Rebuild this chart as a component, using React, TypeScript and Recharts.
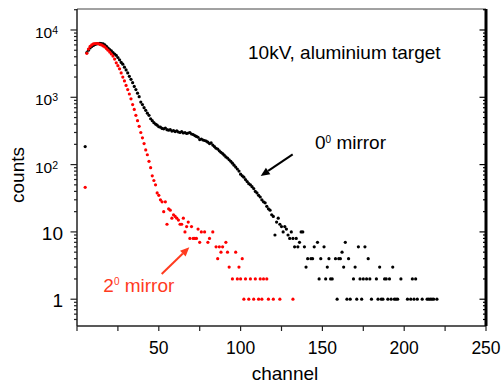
import { ScatterChart, Scatter, XAxis, YAxis } from 'recharts';

// 0 deg mirror (black), channel / counts
const blackChannel = [
  5, 6, 7, 8, 9, 10, 11, 12, 13, 14, 15, 16, 17, 18, 19, 20, 21, 22, 23, 24, 25, 26, 27, 28, 29,
  30, 31, 32, 33, 34, 35, 36, 37, 38, 39, 40, 41, 42, 43, 44, 45, 46, 47, 48, 49, 50, 51, 52, 53, 54,
  55, 56, 57, 58, 59, 60, 61, 62, 63, 64, 65, 66, 67, 68, 69, 70, 71, 72, 73, 74, 75, 76, 77, 78, 79,
  80, 81, 82, 83, 84, 85, 86, 87, 88, 89, 90, 91, 92, 93, 94, 95, 96, 97, 98, 99, 100, 101, 102, 103, 104,
  105, 106, 107, 108, 109, 110, 111, 112, 113, 114, 115, 116, 117, 118, 119, 120, 121, 122, 123, 124,
  125, 126, 127, 128, 129, 130, 131, 132, 133, 134, 135, 136, 137, 138, 139,
  140, 141, 143, 144, 145, 147, 148, 149, 151, 152, 153, 154, 155, 156, 158, 159, 160, 161, 162, 163,
  164, 165, 166, 167, 169, 170, 171, 172, 173, 174, 175, 176, 177, 178, 179, 180, 183, 184, 185, 186,
  187, 188, 189, 190, 191, 192, 193, 194, 195, 196, 198, 202, 204, 205, 206, 207, 208, 211, 214, 215,
  216, 217, 218, 220,
];
const blackCounts = [
  185, 4600, 5000, 5400, 5700, 5900, 6100, 6200, 6300, 6350, 6300, 6200, 6000, 5700, 5400, 5100, 4900, 4600, 4400, 4200, 3900, 3600, 3300, 3100, 2800,
  2550, 2300, 2050, 1850, 1650, 1450, 1300, 1150, 1020, 850, 780, 700, 640, 580, 540, 480, 450, 420, 400, 385, 365, 360, 345, 340, 350,
  330, 325, 330, 315, 320, 310, 318, 305, 300, 310, 295, 300, 290, 295, 300, 285, 280, 270, 262, 255, 235, 240, 232, 228, 224,
  215, 205, 210, 195, 185, 175, 170, 160, 152, 146, 138, 130, 125, 118, 112, 105, 98, 92, 86, 80, 72, 68, 65, 60, 56,
  52, 50, 47, 44, 40, 38, 35, 33, 30, 28, 27, 24, 22, 21, 18, 17, 9, 14, 16, 13,
  12, 10, 12, 11, 9, 8, 10, 8, 6, 8, 6, 7, 10, 10, 6,
  3, 4, 4, 4, 6, 7, 2, 4, 6, 2, 3, 4, 2, 2, 4, 1, 4, 4, 5, 3,
  7, 1, 4, 1, 2, 3, 1, 6, 2, 1, 2, 6, 2, 4, 2, 1, 2, 1, 3, 1,
  1, 2, 2, 1, 2, 1, 3, 1, 1, 1, 2, 1, 1, 2, 1, 2, 1, 1, 1, 1,
  1, 1, 1, 1,
];

// 2 deg mirror (red), channel / counts
const redChannel = [
  5, 6, 7, 8, 9, 10, 11, 12, 13, 14, 15, 16, 17, 18, 19, 20, 21, 22, 23, 24, 25, 26, 27, 28, 29,
  30, 31, 32, 33, 34, 35, 36, 37, 38, 39, 40, 41, 42, 43, 44, 45, 46, 47, 48, 49, 50, 51, 52, 53, 54,
  55, 56, 57, 58, 59, 60, 61, 62, 63, 64, 65, 66, 67, 68, 69, 70, 71, 72, 73, 74, 75, 76, 78, 80, 81,
  83, 85, 86, 87, 88, 89, 91, 92, 93, 95, 97, 98, 99, 100, 101, 102, 103, 105, 106, 108, 109, 111, 112, 113, 114,
  116, 117, 120, 124, 132,
];
const redCounts = [
  46, 4500, 5200, 5700, 6000, 6200, 6300, 6300, 6250, 6100, 6000, 5800, 5600, 5300, 5000, 4700, 4400, 4100, 3700, 3250, 2950, 2650, 2300, 2000, 1750,
  1500, 1300, 1120, 950, 780, 660, 540, 450, 370, 300, 250, 205, 165, 140, 112, 90, 68, 58, 50, 38, 35, 30, 28, 20, 28,
  13, 22, 21, 16, 18, 17, 16, 15, 13, 13, 16, 10, 12, 14, 8, 12, 8, 8, 8, 11, 7, 10, 10, 7, 8,
  10, 6, 4, 6, 5, 6, 7, 5, 3, 2, 5, 2, 3, 2, 4, 1, 2, 1, 2, 1, 2, 1, 2, 1, 2,
  2, 1, 1, 1, 1,
];

const xTicks = [0, 25, 50, 75, 100, 125, 150, 175, 200, 225, 250];
const xLabels = [50, 100, 150, 200, 250];
const yTicks = [
  0.5, 0.6, 0.7, 0.8, 0.9,
  1, 2, 3, 4, 5, 6, 7, 8, 9,
  10, 20, 30, 40, 50, 60, 70, 80, 90,
  100, 200, 300, 400, 500, 600, 700, 800, 900,
  1000, 2000, 3000, 4000, 5000, 6000, 7000, 8000, 9000,
  10000, 20000,
];

const blackData = blackChannel.map((c, i) => ({ x: c, y: blackCounts[i] }));
const redData = redChannel.map((c, i) => ({ x: c, y: redCounts[i] }));

// page is used edge to edge (body margin removed)
const W = 504;
const H = 383;
const FONT = '"Liberation Sans", Arial, sans-serif';
const ORANGE = '#ff3b1f';

const isDecade = (v: number) => Math.abs(Math.log10(v) - Math.round(Math.log10(v))) < 1e-9;

const LeftTick = (props: any) => {
  const { x, y, payload } = props;
  const v = payload.value;
  const major = isDecade(v);
  const e = Math.round(Math.log10(v));
  return (
    <g>
      <line x1={x} x2={x - (major ? 6.5 : 3)} y1={y} y2={y} stroke="#222" strokeWidth={1.2} />
      {major && e >= 2 && (
        <text x={x - 42} y={y + 8} fontSize={15.5} fontFamily={FONT} fill="#000">
          10<tspan fontSize={10.5} dy={-4}>{e}</tspan>
        </text>
      )}
      {major && e < 2 && (
        <text x={x - 14} y={y + 8} fontSize={19} fontFamily={FONT} fill="#000" textAnchor="end">
          {e === 0 ? '1' : '10'}
        </text>
      )}
    </g>
  );
};

const RightTick = (props: any) => {
  const { x, y, payload } = props;
  const major = isDecade(payload.value);
  return <line x1={x} x2={x - (major ? 6.5 : 3)} y1={y} y2={y} stroke="#000" strokeWidth={1.2} />;
};

const BottomTick = (props: any) => {
  const { x, y, payload } = props;
  const v = payload.value;
  return (
    <g>
      <line x1={x} x2={x} y1={y} y2={y + 5} stroke="#222" strokeWidth={1.2} />
      {xLabels.includes(v) && (
        <text x={x} y={y + 27.5} fontSize={17.5} fontFamily={FONT} fill="#000" textAnchor="middle">
          {v}
        </text>
      )}
    </g>
  );
};

const TopTick = (props: any) => {
  const { x, y } = props;
  return <line x1={x} x2={x} y1={y} y2={y + 5} stroke="#222" strokeWidth={1} />;
};

const dot = (color: string) => (p: any) => <circle cx={p.cx} cy={p.cy} r={1.6} fill={color} />;

const Arrow = ({ from, to, color }: { from: [number, number]; to: [number, number]; color: string }) => {
  const dx = to[0] - from[0];
  const dy = to[1] - from[1];
  const len = Math.hypot(dx, dy);
  const ux = dx / len;
  const uy = dy / len;
  const bx = to[0] - ux * 9;
  const by = to[1] - uy * 9;
  const px = -uy * 4;
  const py = ux * 4;
  return (
    <g>
      <line x1={from[0]} y1={from[1]} x2={bx} y2={by} stroke={color} strokeWidth={2} />
      <polygon points={`${to[0]},${to[1]} ${bx + px},${by + py} ${bx - px},${by - py}`} fill={color} />
    </g>
  );
};

export default function App() {
  return (
    <div style={{ position: 'relative', width: W, height: H }}>
      <style>{'html,body{margin:0;padding:0;overflow:hidden}'}</style>
      <ScatterChart
        width={W}
        height={H}
        margin={{ top: 8, right: 17, bottom: 0, left: 0 }}
        style={{ overflow: 'visible' }}
      >
        <XAxis
          xAxisId="bottom"
          dataKey="x"
          type="number"
          domain={[0, 250]}
          allowDataOverflow
          ticks={xTicks}
          interval={0}
          height={57}
          tickSize={0}
          tickMargin={0}
          tickLine={false}
          axisLine={{ stroke: '#222', strokeWidth: 1.5 }}
          tick={BottomTick}
        />
        <XAxis
          xAxisId="top"
          orientation="top"
          type="number"
          domain={[0, 250]}
          allowDataOverflow
          ticks={xTicks}
          interval={0}
          height={1}
          tickSize={0}
          tickMargin={0}
          tickLine={false}
          axisLine={{ stroke: '#444', strokeWidth: 1 }}
          tick={TopTick}
        />
        <YAxis
          yAxisId="left"
          dataKey="y"
          type="number"
          scale="log"
          domain={[0.4, 20500]}
          allowDataOverflow
          ticks={yTicks}
          interval={0}
          width={77}
          tickSize={0}
          tickMargin={0}
          tickLine={false}
          axisLine={{ stroke: '#222', strokeWidth: 1.5 }}
          tick={LeftTick}
        />
        <YAxis
          yAxisId="right"
          orientation="right"
          type="number"
          scale="log"
          domain={[0.4, 20500]}
          allowDataOverflow
          ticks={yTicks}
          interval={0}
          width={1}
          tickSize={0}
          tickMargin={0}
          tickLine={false}
          axisLine={{ stroke: '#000', strokeWidth: 3 }}
          tick={RightTick}
        />
        <Scatter
          name="0° mirror"
          xAxisId="bottom"
          yAxisId="left"
          data={blackData}
          shape={dot('#000')}
          isAnimationActive={false}
        />
        <Scatter
          name="2° mirror"
          xAxisId="bottom"
          yAxisId="left"
          data={redData}
          shape={dot('#ff0000')}
          isAnimationActive={false}
        />
      </ScatterChart>
      <svg
        width={W}
        height={H}
        style={{ position: 'absolute', left: 0, top: 0, pointerEvents: 'none' }}
        fontFamily={FONT}
      >
        <text x={248} y={59.3} fontSize={19} fill="#000">10kV, aluminium target</text>
        <text x={315} y={149} fontSize={19} fill="#000">
          0<tspan fontSize={10} dy={-6.5}>0</tspan>
          <tspan dy={6.5}> mirror</tspan>
        </text>
        <Arrow from={[292.7, 154.3]} to={[260.7, 176]} color="#000" />
        <text x={103.3} y={291.7} fontSize={19} fill={ORANGE}>
          2<tspan fontSize={10} dy={-6.5}>0</tspan>
          <tspan dy={6.5}> mirror</tspan>
        </text>
        <Arrow from={[161.7, 274]} to={[189.3, 247.3]} color={ORANGE} />
        <text x={285} y={380} fontSize={19} fill="#000" textAnchor="middle">channel</text>
        <text
          x={23.5}
          y={175}
          fontSize={19}
          fill="#000"
          textAnchor="middle"
          transform="rotate(-90 23.5 175)"
        >
          counts
        </text>
      </svg>
    </div>
  );
}
